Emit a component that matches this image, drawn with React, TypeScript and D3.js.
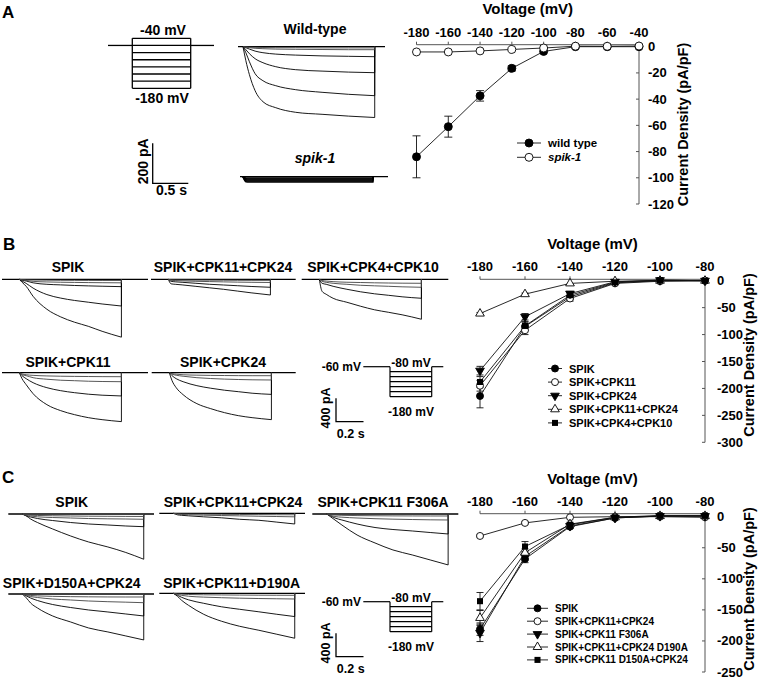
import React from 'react';
import * as d3 from 'd3';

const FONT = "'Liberation Sans', Arial, Helvetica, sans-serif";

// ---------- I-V data ----------
const VOLT_A = [-180, -160, -140, -120, -100, -80, -60, -40];
const A_YTICKS = [0, -20, -40, -60, -80, -100, -120];
const WT_MEAN = [-84, -61, -37.5, -16.5, -3.6, 0, 0, 0];
const WT_ERR = [16, 8, 4, 2, 1, 0.5, 0.5, 0.5];
const SPIK1_MEAN = [-4, -4, -3.2, -2.1, -1, 0.4, 0.3, 0.5];
const SPIK1_ERR = [0.6, 0.6, 0.5, 0.5, 0.5, 0.3, 0.3, 0.3];

const VOLT_BC = [-180, -160, -140, -120, -100, -80];
const B_YTICKS = [0, -50, -100, -150, -200, -250, -300];
const B_SPIK = [-214, -85, -30, -4, 0, 0];
const B_SPIK_ERR = [22, 8, 5, 2, 1, 1];
const B_CPK11 = [-195, -92, -33, -5, -1, 0];
const B_CPK11_ERR = [10, 8, 5, 2, 1, 1];
const B_CPK24 = [-167, -67, -24, -2, 1, 0];
const B_CPK24_ERR = [8, 6, 4, 2, 1, 1];
const B_CPK11_24 = [-61, -25, -5, -1, 0, 0];
const B_CPK11_24_ERR = [2, 2, 1, 1, 1, 1];
const B_CPK4_10 = [-188, -84, -27, -3, 1, 0];
const B_CPK4_10_ERR = [10, 8, 5, 2, 1, 1];

const C_YTICKS = [0, -50, -100, -150, -200, -250];
const C_SPIK = [-181, -68, -16, -2, 1, 1];
const C_SPIK_ERR = [10, 6, 3, 1, 1, 1];
const C_CPK11_24 = [-31, -10, -1, 0, 0, -1];
const C_CPK11_24_ERR = [2, 2, 1, 1, 1, 1];
const C_F306A = [-187, -64, -15, -2, 1, 1];
const C_F306A_ERR = [14, 6, 3, 1, 1, 1];
const C_D190A = [-163, -58, -12, -1, 1, 1];
const C_D190A_ERR = [12, 6, 3, 1, 1, 1];
const C_D150A = [-136, -48, -13, -1, 2, 2];
const C_D150A_ERR = [14, 8, 3, 1, 1, 1];

// ---------- current traces (pA vs s) ----------
const TIME_A = [0, 0.04, 0.09, 0.17, 0.28, 0.46, 0.74, 1.11, 1.48, 1.85];
const WT_TRACES = [
  [0, -70, -140, -220, -275, -305, -328, -338, -347, -354],
  [0, -30, -75, -135, -170, -195, -215, -228, -238, -245],
  [0, -15, -35, -60, -80, -100, -115, -122, -127, -130],
  [0, -5, -12, -22, -30, -37, -42, -46, -48, -50],
  [0, -2, -5, -8, -10, -12, -13, -14, -15, -15],
  [0, -1, -2, -3, -4, -5, -5, -6, -6, -6],
];
const SPIK1_TRACES = [
  [0, -6, -6, -6, -6, -6, -6, -6, -6, -6],
  [0, -10, -11, -11, -11, -11, -11, -11, -11, -11],
  [0, -15, -16, -16, -16, -16, -16, -16, -16, -16],
  [0, -20, -21, -21, -21, -21, -21, -21, -21, -21],
  [0, -25, -26, -26, -26, -26, -26, -26, -26, -26],
];

const TIME_B = [0, 0.02, 0.05, 0.1, 0.2, 0.3, 0.4, 0.5, 0.6, 0.74];
const TR_B_SPIK = [
  [0, -50, -120, -290, -510, -640, -730, -800, -885, -985],
  [0, -30, -70, -150, -260, -320, -360, -390, -420, -455],
  [0, -15, -30, -60, -85, -95, -105, -112, -118, -125],
  [0, -10, -20, -35, -45, -50, -53, -56, -58, -60],
  [0, -5, -8, -12, -15, -17, -18, -19, -20, -20],
];
const TR_B_CPK11_24 = [
  [0, -77, -85, -95, -120, -145, -170, -200, -230, -267],
  [0, -34, -43, -51, -68, -85, -97, -109, -122, -136],
  [0, -17, -22, -27, -34, -39, -44, -48, -51, -54],
  [0, -8, -10, -12, -14, -15, -16, -17, -18, -18],
];
const TR_B_CPK4_10 = [
  [0, -204, -255, -323, -391, -459, -519, -561, -604, -680],
  [0, -68, -85, -119, -170, -213, -247, -272, -298, -323],
  [0, -34, -51, -68, -85, -102, -111, -119, -128, -136],
  [0, -20, -30, -40, -50, -55, -60, -63, -66, -68],
];
const TR_B_CPK11 = [
  [0, -102, -204, -357, -544, -646, -714, -765, -799, -833],
  [0, -51, -102, -170, -255, -306, -340, -366, -383, -396],
  [0, -34, -51, -85, -111, -128, -136, -145, -150, -153],
  [0, -20, -35, -45, -55, -60, -63, -65, -67, -68],
];
const TR_B_CPK24 = [
  [0, -136, -255, -374, -527, -612, -680, -731, -765, -799],
  [0, -51, -102, -153, -221, -264, -298, -323, -349, -369],
  [0, -26, -43, -60, -85, -99, -109, -116, -121, -124],
  [0, -15, -25, -35, -42, -46, -48, -50, -51, -51],
];

const TIME_C = [0, 0.03, 0.06, 0.11, 0.22, 0.35, 0.48, 0.62, 0.75, 0.88];
const TR_C_SPIK = [
  [0, -34, -85, -145, -255, -374, -476, -561, -655, -770],
  [0, -34, -51, -77, -111, -145, -170, -187, -204, -216],
  [0, -26, -34, -48, -60, -68, -77, -82, -85, -90],
  [0, -15, -20, -25, -30, -34, -37, -39, -41, -42],
];
const TR_C_CPK11_24 = [
  [0, -26, -34, -43, -60, -77, -102, -119, -150, -182],
  [0, -15, -20, -25, -32, -38, -44, -50, -55, -60],
  [0, -8, -10, -12, -15, -18, -20, -22, -24, -25],
];
const TR_C_F306A = [
  [0, -51, -102, -187, -357, -493, -612, -697, -782, -867],
  [0, -34, -68, -102, -170, -230, -264, -289, -315, -340],
  [0, -26, -43, -54, -68, -80, -88, -94, -99, -102],
  [0, -12, -18, -22, -27, -30, -32, -33, -34, -34],
];
const TR_C_D150A = [
  [0, -68, -153, -238, -374, -476, -578, -646, -714, -782],
  [0, -34, -68, -111, -179, -230, -272, -306, -340, -374],
  [0, -26, -43, -60, -85, -102, -119, -131, -139, -148],
  [0, -15, -25, -32, -40, -45, -48, -50, -51, -51],
];
const TR_C_D190A = [
  [0, -51, -119, -204, -357, -476, -561, -629, -697, -765],
  [0, -34, -68, -111, -170, -230, -272, -315, -357, -396],
  [0, -20, -35, -50, -65, -75, -83, -89, -93, -97],
  [0, -10, -15, -20, -25, -28, -30, -32, -33, -34],
];

// voltage protocols (mV)
const PROTO_A_LEVELS = [-40, -60, -80, -100, -120, -140, -160, -180];
const PROTO_BC_LEVELS = [-80, -100, -120, -140, -160, -180];
const HOLD_MV = -60;

type MarkerType = 'cf' | 'co' | 'td' | 'tu' | 'sq';

function Marker({ type, x, y, r }: { type: MarkerType; x: number; y: number; r: number }) {
  const area = Math.PI * r * r;
  if (type === 'cf' || type === 'co') {
    return <circle cx={x} cy={y} r={r} fill={type === 'cf' ? '#000' : '#fff'} stroke="#000" strokeWidth={0.9} />;
  }
  if (type === 'sq') {
    const p = d3.symbol().type(d3.symbolSquare).size(area * 0.95)();
    return <path d={p!} transform={`translate(${x},${y})`} fill="#000" />;
  }
  const p = d3.symbol().type(d3.symbolTriangle).size(area * 0.85)();
  return (
    <path
      d={p!}
      transform={`translate(${x},${y}) rotate(${type === 'td' ? 180 : 0})`}
      fill={type === 'td' ? '#000' : '#fff'}
      stroke="#000"
      strokeWidth={0.9}
    />
  );
}

type Series = { name: string; mean: number[]; err: number[]; marker: MarkerType; italic?: boolean };

type IVCfg = {
  volts: number[];
  yTicks: number[];
  xRange: [number, number];
  yDomainMin: number;
  yRange: [number, number];
  axisOffset: number;
  series: Series[];
  r: number;
  cap: number;
  titleY: number;
  tickLabelY: number;
  yLabelX: number;
  yTitleX: number;
  yTitleY: number;
  legendX: number;
  legendY: number;
  legendDy: number;
  legendLine: number;
  legendFont: number;
};

function IVPlot({ c }: { c: IVCfg }) {
  const x = d3.scaleLinear().domain([c.volts[0], c.volts[c.volts.length - 1]]).range(c.xRange);
  const y = d3.scaleLinear().domain([0, c.yDomainMin]).range(c.yRange);
  const ax = x(c.volts[c.volts.length - 1]);
  const axY = y(0) - c.axisOffset;
  const line = d3
    .line<number>()
    .x((_, i) => x(c.volts[i]))
    .y((d) => y(d));
  return (
    <g fontFamily={FONT} fontWeight="bold">
      <text x={(c.xRange[0] + c.xRange[1]) / 2} y={c.titleY} textAnchor="middle" dominantBaseline="central" fontSize={15}>
        Voltage (mV)
      </text>
      {/* x axis */}
      <line x1={c.xRange[0]} x2={ax} y1={axY} y2={axY} stroke="#555" strokeWidth={1} />
      {c.volts.map((v) => (
        <g key={v}>
          <line x1={x(v)} x2={x(v)} y1={axY} y2={axY - 3} stroke="#555" strokeWidth={1} />
          <text x={x(v)} y={c.tickLabelY} textAnchor="middle" dominantBaseline="central" fontSize={13}>
            {v}
          </text>
        </g>
      ))}
      {/* y axis */}
      <line x1={ax} x2={ax} y1={axY} y2={y(c.yDomainMin)} stroke="#555" strokeWidth={1} />
      {c.yTicks.map((t) => (
        <g key={t}>
          <line x1={ax} x2={ax - 3} y1={y(t)} y2={y(t)} stroke="#555" strokeWidth={1} />
          <text x={c.yLabelX} y={y(t)} dominantBaseline="central" fontSize={13}>
            {t}
          </text>
        </g>
      ))}
      <text
        transform={`translate(${c.yTitleX},${c.yTitleY}) rotate(-90)`}
        textAnchor="middle"
        dominantBaseline="central"
        fontSize={14.5}
      >
        Current Density (pA/pF)
      </text>
      {/* series lines */}
      {c.series.map((s) => (
        <path key={s.name + 'l'} d={line(s.mean)!} fill="none" stroke="#111" strokeWidth={0.9} />
      ))}
      {/* error bars */}
      {c.series.map((s) =>
        s.mean.map((m, i) =>
          s.err[i] > 1.5 ? (
            <g key={s.name + 'e' + i} stroke="#111" strokeWidth={0.9}>
              <line x1={x(c.volts[i])} x2={x(c.volts[i])} y1={y(m - s.err[i])} y2={y(m + s.err[i])} />
              <line x1={x(c.volts[i]) - c.cap} x2={x(c.volts[i]) + c.cap} y1={y(m - s.err[i])} y2={y(m - s.err[i])} />
              <line x1={x(c.volts[i]) - c.cap} x2={x(c.volts[i]) + c.cap} y1={y(m + s.err[i])} y2={y(m + s.err[i])} />
            </g>
          ) : null
        )
      )}
      {/* markers */}
      {c.series.map((s) =>
        s.mean.map((m, i) => <Marker key={s.name + 'm' + i} type={s.marker} x={x(c.volts[i])} y={y(m)} r={c.r} />)
      )}
      {/* legend */}
      {c.series.map((s, i) => {
        const ly = c.legendY + i * c.legendDy;
        return (
          <g key={s.name + 'lg'}>
            <line x1={c.legendX} x2={c.legendX + c.legendLine} y1={ly} y2={ly} stroke="#111" strokeWidth={0.9} />
            <Marker type={s.marker} x={c.legendX + c.legendLine / 2} y={ly} r={c.r} />
            <text
              x={c.legendX + c.legendLine + 7}
              y={ly}
              dominantBaseline="central"
              fontSize={c.legendFont}
              fontStyle={s.italic ? 'italic' : 'normal'}
            >
              {s.name}
            </text>
          </g>
        );
      })}
    </g>
  );
}

type TraceCfg = {
  x0: number;
  x1: number;
  p0: number;
  base: number;
  pxPerSec: number;
  pxPerPA: number;
  times: number[];
  traces: number[][];
  title?: string;
  titleX?: number;
  titleY?: number;
  italicTitle?: boolean;
  stroke?: number;
  allDark?: boolean;
};

function TracePanel({ c }: { c: TraceCfg }) {
  const dur = c.times[c.times.length - 1];
  const x = d3.scaleLinear().domain([0, dur]).range([c.p0, c.p0 + dur * c.pxPerSec]);
  const y = d3.scaleLinear().domain([0, -100]).range([c.base, c.base + 100 * c.pxPerPA]);
  const line = d3
    .line<number>()
    .x((_, i) => x(c.times[i]))
    .y((d) => y(d))
    .curve(d3.curveMonotoneX);
  const xEnd = x(dur);
  return (
    <g>
      <line x1={c.x0} x2={c.x1} y1={c.base} y2={c.base} stroke="#000" strokeWidth={1.3} />
      {c.traces.map((tr, i) => (
        <path
          key={i}
          d={line(tr)! + `L${xEnd},${c.base}`}
          fill="none"
          stroke={!c.allDark && i >= c.traces.length - 2 ? '#444' : '#000'}
          strokeWidth={c.stroke ?? 0.9}
        />
      ))}
      {c.title && (
        <text
          x={c.titleX}
          y={c.titleY}
          textAnchor="middle"
          dominantBaseline="central"
          fontFamily={FONT}
          fontWeight="bold"
          fontStyle={c.italicTitle ? 'italic' : 'normal'}
          fontSize={14}
        >
          {c.title}
        </text>
      )}
    </g>
  );
}

function ProtocolA() {
  const v = d3.scaleLinear().domain([-40, -180]).range([38.3, 88.3]);
  const left = 132.3,
    right = 190.7;
  return (
    <g stroke="#000" strokeWidth={1.3} fill="none">
      <line x1={108} x2={left} y1={v(HOLD_MV)} y2={v(HOLD_MV)} />
      <line x1={right} x2={214} y1={v(HOLD_MV)} y2={v(HOLD_MV)} />
      <line x1={left} x2={left} y1={v(-40)} y2={v(-180)} />
      <line x1={right} x2={right} y1={v(-40)} y2={v(-180)} />
      {PROTO_A_LEVELS.map((l) => (
        <line key={l} x1={left} x2={right} y1={v(l)} y2={v(l)} />
      ))}
    </g>
  );
}

function ProtocolBC({ top }: { top: number }) {
  const v = d3.scaleLinear().domain([-80, -180]).range([top, top + 25]);
  const left = 390,
    right = 431.7;
  return (
    <g>
      <g stroke="#000" strokeWidth={1.2} fill="none">
        <line x1={363.3} x2={left} y1={v(HOLD_MV)} y2={v(HOLD_MV)} />
        <line x1={right} x2={443.3} y1={v(HOLD_MV)} y2={v(HOLD_MV)} />
        <line x1={left} x2={left} y1={v(HOLD_MV)} y2={v(-180)} />
        <line x1={right} x2={right} y1={v(HOLD_MV)} y2={v(-180)} />
        {PROTO_BC_LEVELS.map((l) => (
          <line key={l} x1={left} x2={right} y1={v(l)} y2={v(l)} />
        ))}
      </g>
      <g fontFamily={FONT} fontWeight="bold" fontSize={12}>
        <text x={361} y={v(HOLD_MV)} textAnchor="end" dominantBaseline="central">
          -60 mV
        </text>
        <text x={411} y={top - 9} textAnchor="middle" dominantBaseline="central">
          -80 mV
        </text>
        <text x={411} y={top + 40} textAnchor="middle" dominantBaseline="central">
          -180 mV
        </text>
      </g>
    </g>
  );
}

function ScaleBar({ x, yBottom, hLen, vLen, vLabel, hLabel, vLabelX, hLabelY, fs }: any) {
  return (
    <g>
      <path d={`M${x},${yBottom - vLen}L${x},${yBottom}L${x + hLen},${yBottom}`} fill="none" stroke="#000" strokeWidth={1.3} />
      <text
        transform={`translate(${vLabelX},${yBottom - vLen / 2 - 2}) rotate(-90)`}
        textAnchor="middle"
        dominantBaseline="central"
        fontFamily={FONT}
        fontWeight="bold"
        fontSize={fs}
      >
        {vLabel}
      </text>
      <text x={x + hLen / 2 + 1} y={hLabelY} textAnchor="middle" dominantBaseline="central" fontFamily={FONT} fontWeight="bold" fontSize={fs}>
        {hLabel}
      </text>
    </g>
  );
}

const B_PX_PER_SEC = 138;
const B_PX_PER_PA = 23.5 / 400;

export default function App() {
  const ivA: IVCfg = {
    volts: VOLT_A,
    yTicks: A_YTICKS,
    xRange: [416.5, 639],
    yDomainMin: -120,
    yRange: [46.7, 204],
    axisOffset: 2,
    series: [
      { name: 'wild type', mean: WT_MEAN, err: WT_ERR, marker: 'cf' },
      { name: 'spik-1', mean: SPIK1_MEAN, err: SPIK1_ERR, marker: 'co', italic: true },
    ],
    r: 4,
    cap: 4,
    titleY: 8,
    tickLabelY: 32.5,
    yLabelX: 648,
    yTitleX: 682.5,
    yTitleY: 124.5,
    legendX: 517,
    legendY: 143,
    legendDy: 14.3,
    legendLine: 24,
    legendFont: 11.5,
  };
  const ivB: IVCfg = {
    volts: VOLT_BC,
    yTicks: B_YTICKS,
    xRange: [480, 705],
    yDomainMin: -300,
    yRange: [280.7, 442.3],
    axisOffset: 1.4,
    series: [
      { name: 'SPIK', mean: B_SPIK, err: B_SPIK_ERR, marker: 'cf' },
      { name: 'SPIK+CPK11', mean: B_CPK11, err: B_CPK11_ERR, marker: 'co' },
      { name: 'SPIK+CPK24', mean: B_CPK24, err: B_CPK24_ERR, marker: 'td' },
      { name: 'SPIK+CPK11+CPK24', mean: B_CPK11_24, err: B_CPK11_24_ERR, marker: 'tu' },
      { name: 'SPIK+CPK4+CPK10', mean: B_CPK4_10, err: B_CPK4_10_ERR, marker: 'sq' },
    ],
    r: 3.5,
    cap: 3.5,
    titleY: 243.7,
    tickLabelY: 266.7,
    yLabelX: 717,
    yTitleX: 749,
    yTitleY: 355,
    legendX: 548,
    legendY: 368.5,
    legendDy: 13.6,
    legendLine: 14,
    legendFont: 11,
  };
  const ivC: IVCfg = {
    volts: VOLT_BC,
    yTicks: C_YTICKS,
    xRange: [480, 705],
    yDomainMin: -250,
    yRange: [516.7, 672],
    axisOffset: 3,
    series: [
      { name: 'SPIK', mean: C_SPIK, err: C_SPIK_ERR, marker: 'cf' },
      { name: 'SPIK+CPK11+CPK24', mean: C_CPK11_24, err: C_CPK11_24_ERR, marker: 'co' },
      { name: 'SPIK+CPK11 F306A', mean: C_F306A, err: C_F306A_ERR, marker: 'td' },
      { name: 'SPIK+CPK11+CPK24 D190A', mean: C_D190A, err: C_D190A_ERR, marker: 'tu' },
      { name: 'SPIK+CPK11 D150A+CPK24', mean: C_D150A, err: C_D150A_ERR, marker: 'sq' },
    ],
    r: 3.5,
    cap: 3.5,
    titleY: 478.5,
    tickLabelY: 501.7,
    yLabelX: 717,
    yTitleX: 749,
    yTitleY: 589,
    legendX: 527,
    legendY: 608.3,
    legendDy: 12.9,
    legendLine: 21,
    legendFont: 10,
  };

  const traceA: TraceCfg[] = [
    { x0: 238, x1: 385, p0: 243, base: 46.7, pxPerSec: 71.2, pxPerPA: 0.2, times: TIME_A, traces: WT_TRACES, title: 'Wild-type', titleX: 315, titleY: 29 },
    { x0: 240, x1: 388, p0: 243, base: 176.7, pxPerSec: 70.2, pxPerPA: 0.2, times: TIME_A, traces: SPIK1_TRACES, title: 'spik-1', titleX: 315, titleY: 158, italicTitle: true, stroke: 1.5, allDark: true },
  ];
  const mk = (x0: number, x1: number, p0: number, base: number, times: number[], traces: number[][], title: string, titleX: number, titleY: number): TraceCfg => ({
    x0, x1, p0, base, pxPerSec: B_PX_PER_SEC, pxPerPA: B_PX_PER_PA, times, traces, title, titleX, titleY,
  });
  const traceB: TraceCfg[] = [
    mk(2, 148, 19.3, 279.3, TIME_B, TR_B_SPIK, 'SPIK', 68, 266.7),
    mk(151, 295.7, 168.3, 279.3, TIME_B, TR_B_CPK11_24, 'SPIK+CPK11+CPK24', 223, 266.7),
    mk(301.7, 448.3, 319.3, 279.3, TIME_B, TR_B_CPK4_10, 'SPIK+CPK4+CPK10', 373, 266.7),
    mk(2, 148, 19.3, 372.7, TIME_B, TR_B_CPK11, 'SPIK+CPK11', 68, 361.7),
    mk(151.7, 295.7, 169.3, 372.7, TIME_B, TR_B_CPK24, 'SPIK+CPK24', 223, 361.7),
  ];
  const traceC: TraceCfg[] = [
    mk(8.3, 154, 22.3, 514, TIME_C, TR_C_SPIK, 'SPIK', 71.7, 501.7),
    mk(159.3, 305, 173.3, 513.3, TIME_C, TR_C_CPK11_24, 'SPIK+CPK11+CPK24', 233, 501.7),
    mk(312.3, 458.3, 326.7, 514, TIME_C, TR_C_F306A, 'SPIK+CPK11 F306A', 383, 501.7),
    mk(8.3, 154, 22.3, 594, TIME_C, TR_C_D150A, 'SPIK+D150A+CPK24', 71.7, 583.3),
    mk(159.3, 305, 173.3, 593.3, TIME_C, TR_C_D190A, 'SPIK+CPK11+D190A', 231.7, 583.3),
  ];

  return (
    <svg width={759} height={680} style={{ position: 'absolute', left: 0, top: 0, background: '#fff' }}>
      <rect width={759} height={680} fill="#fff" />
      <g fontFamily={FONT} fontWeight="bold" fontSize={17}>
        <text x={2} y={18}>A</text>
        <text x={3} y={250}>B</text>
        <text x={2} y={483}>C</text>
      </g>

      {/* Panel A */}
      <ProtocolA />
      <g fontFamily={FONT} fontWeight="bold" fontSize={14}>
        <text x={163} y={30} textAnchor="middle" dominantBaseline="central">-40 mV</text>
        <text x={162} y={98} textAnchor="middle" dominantBaseline="central">-180 mV</text>
      </g>
      <ScaleBar x={152.7} yBottom={183.3} hLen={35.6} vLen={40} vLabel="200 pA" hLabel="0.5 s" vLabelX={143} hLabelY={189.5} fs={14} />
      {traceA.map((c, i) => (
        <TracePanel key={'a' + i} c={c} />
      ))}
      <IVPlot c={ivA} />

      {/* Panel B */}
      {traceB.map((c, i) => (
        <TracePanel key={'b' + i} c={c} />
      ))}
      <ProtocolBC top={371.7} />
      <ScaleBar x={336} yBottom={421.7} hLen={27.5} vLen={23.5} vLabel="400 pA" hLabel="0.2 s" vLabelX={326} hLabelY={433.5} fs={12.5} />
      <IVPlot c={ivB} />

      {/* Panel C */}
      {traceC.map((c, i) => (
        <TracePanel key={'c' + i} c={c} />
      ))}
      <ProtocolBC top={606.7} />
      <ScaleBar x={336} yBottom={656.7} hLen={27.5} vLen={23.5} vLabel="400 pA" hLabel="0.2 s" vLabelX={326} hLabelY={668.5} fs={12.5} />
      <IVPlot c={ivC} />
    </svg>
  );
}
